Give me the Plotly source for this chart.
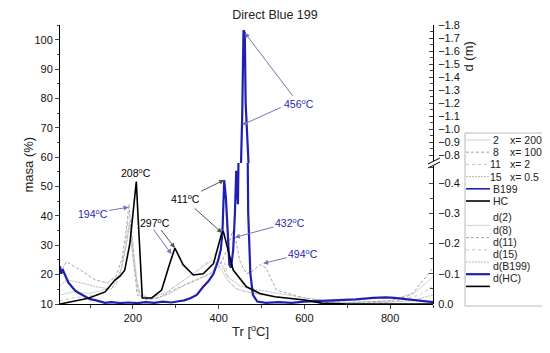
import plotly.graph_objects as go

# ---------------- data ----------------
# TG curves (mass %, left axis)
T_HC = [30, 100, 130, 158, 181, 201, 213, 230, 251, 275, 294, 314, 337, 368, 399, 410, 422, 438, 465, 485, 520, 600, 700, 800, 900]
M_HC = [100, 99.8, 99.3, 97.4, 94, 89.4, 86.6, 86, 85.4, 84.3, 81.4, 78, 75.7, 72.9, 68.5, 66, 63, 60.8, 58.6, 58, 56.9, 55.7, 55.1, 54.8, 54.6]

T_B199 = [30, 49, 80, 112, 174, 290, 329, 368, 399, 415, 430, 438, 446, 454, 461, 467, 473, 496, 558, 700, 776, 850, 900]
M_B199 = [100, 97.4, 96, 95.6, 95.3, 95.1, 94.5, 92.3, 88.9, 85.2, 83, 81.5, 77.4, 71.8, 59, 55, 53.5, 52.4, 51.8, 51.2, 50.7, 49.6, 48.4]

T_2 = [30, 60, 112, 158, 189, 205, 250, 290, 330, 368, 400, 430, 455, 480, 520, 600, 700, 800, 900]
M_2 = [100, 98.5, 96.2, 94, 88.3, 86, 85, 83.5, 80.5, 77, 72, 66, 61, 59, 58.5, 58, 57.5, 57.3, 57]

T_8 = [30, 57, 96, 135, 174, 205, 251, 283, 329, 368, 407, 430, 450, 470, 500, 555, 718, 800, 900]
M_8 = [100, 95.7, 92.8, 90.6, 87.7, 85.1, 83.7, 82.6, 76.9, 73.5, 67.8, 64.3, 61, 57, 54, 53, 51.3, 49.5, 45.6]

T_11 = [30, 80, 135, 174, 205, 251, 290, 329, 368, 407, 438, 460, 485, 600, 750, 900]
M_11 = [100, 98, 94, 90.6, 86, 84.5, 82.6, 80.9, 78.6, 75.2, 70, 64, 61.6, 59, 58, 57]

T_15 = [30, 100, 150, 190, 210, 250, 300, 350, 400, 430, 460, 500, 600, 900]
M_15 = [100, 98.5, 95.5, 89, 85.5, 84.8, 82, 76, 70, 65, 60, 58.5, 58.2, 57.5]

# DTG curves (d, right axis)
TD_HC = [30, 96, 135, 158, 170, 181, 193, 201, 208, 212, 222, 244, 267, 286, 298, 317, 341, 364, 388, 407, 411, 422, 434, 465, 496, 531, 601, 640, 700, 900]
D_HC = [0, -0.019, -0.04, -0.079, -0.092, -0.112, -0.2, -0.31, -0.405, -0.29, -0.02, -0.02, -0.046, -0.134, -0.185, -0.13, -0.096, -0.1, -0.134, -0.233, -0.24, -0.178, -0.112, -0.057, -0.035, -0.024, -0.013, -0.003, 0, 0]

TD_B199 = [30, 33, 36, 40, 45, 50, 57, 65, 72, 81, 90, 100, 112, 125, 135, 150, 170, 190, 210, 230, 250, 270, 290, 310, 320, 335, 349, 364, 376, 388, 399, 405, 409, 413, 417, 420, 425, 429, 434, 438, 441, 445, 450, 455, 458, 461, 463, 466, 469, 474, 480, 490, 510, 540, 570, 600, 640, 680, 720, 760, 790, 810, 840, 870, 900]
D_B199 = [-0.125, -0.10, -0.115, -0.1, -0.085, -0.07, -0.057, -0.045, -0.038, -0.03, -0.022, -0.016, -0.013, -0.008, -0.004, -0.006, -0.003, -0.005, -0.003, -0.006, -0.004, -0.008, -0.005, -0.01, -0.012, -0.02, -0.03, -0.057, -0.075, -0.1, -0.145, -0.18, -0.24, -0.41, -0.35, -0.27, -0.13, -0.12, -0.18, -0.30, -0.44, -0.33, -0.45, -1.1, -1.76, -1.74, -1.2, -0.6, -0.3, -0.1, -0.03, -0.008, -0.004, -0.006, -0.004, -0.008, -0.01, -0.012, -0.015, -0.02, -0.022, -0.02, -0.015, -0.01, -0.006]

TD_2 = [30, 60, 100, 140, 170, 185, 192, 200, 215, 240, 280, 320, 360, 385, 400, 420, 440, 480, 550, 620, 700, 800, 860, 900]
D_2 = [-0.03, -0.04, -0.035, -0.05, -0.1, -0.2, -0.26, -0.15, -0.03, -0.02, -0.04, -0.08, -0.12, -0.145, -0.13, -0.08, -0.05, -0.035, -0.02, -0.01, -0.005, -0.01, -0.04, -0.09]

TD_8 = [30, 45, 80, 112, 140, 160, 175, 185, 191, 198, 210, 230, 260, 300, 350, 380, 400, 410, 420, 432, 440, 450, 465, 480, 496, 510, 535, 560, 600, 650, 700, 800, 850, 900]
D_8 = [-0.1, -0.14, -0.11, -0.08, -0.07, -0.09, -0.15, -0.25, -0.33, -0.2, -0.03, -0.015, -0.02, -0.05, -0.08, -0.1, -0.12, -0.15, -0.18, -0.24, -0.21, -0.14, -0.1, -0.11, -0.13, -0.12, -0.046, -0.036, -0.02, -0.01, -0.005, -0.01, -0.03, -0.12]

TD_11 = [30, 60, 120, 160, 180, 190, 196, 205, 220, 260, 300, 350, 375, 395, 410, 425, 450, 500, 560, 650, 800, 870, 900]
D_11 = [-0.01, -0.02, -0.03, -0.06, -0.15, -0.3, -0.28, -0.1, -0.02, -0.02, -0.06, -0.11, -0.14, -0.17, -0.16, -0.07, -0.045, -0.03, -0.02, -0.005, -0.005, -0.03, -0.06]

TD_15 = [30, 45, 80, 120, 150, 170, 185, 192, 200, 212, 240, 280, 330, 380, 405, 420, 450, 480, 520, 600, 700, 850, 900]
D_15 = [-0.06, -0.08, -0.07, -0.055, -0.05, -0.1, -0.2, -0.27, -0.2, -0.04, -0.015, -0.03, -0.07, -0.1, -0.14, -0.09, -0.06, -0.05, -0.04, -0.02, 0, -0.01, -0.03]

TG_NAMES = ["2", "8", "11", "15", "B199", "HC"]
X_LABELS = ["x= 200", "x= 100", "x= 2", "x= 0.5"]
DTG_NAMES = ["d(2)", "d(8)", "d(11)", "d(15)", "d(B199)", "d(HC)"]

X_TICKS = [200, 400, 600, 800]
Y_TICKS = [10, 20, 30, 40, 50, 60, 70, 80, 90, 100]
D_LOW_TICKS = [0.0, -0.1, -0.2, -0.3, -0.4]
D_HIGH_TICKS = [-0.8, -0.9, -1.0, -1.1, -1.2, -1.3, -1.4, -1.5, -1.6, -1.7, -1.8]

# ---------------- styles ----------------
FONT = "Arial, Liberation Sans, sans-serif"
BLUE = "#1f1fb0"
STY = {
    "2": dict(color="#d2d2da", width=1, dash="solid"),
    "8": dict(color="#a4a4ac", width=1, dash="3px,2px"),
    "11": dict(color="#c4c4cc", width=1, dash="dot"),
    "15": dict(color="#b8b8c0", width=1, dash="2px,1px"),
    "B199": dict(color=BLUE, width=1.6, dash="solid"),
    "HC": dict(color="#000000", width=1.6, dash="solid"),
}
STY_D = {
    "d(2)": STY["2"], "d(8)": STY["8"], "d(11)": STY["11"], "d(15)": STY["15"],
    "d(B199)": dict(color=BLUE, width=2.2, dash="solid"),
    "d(HC)": dict(color="#000000", width=1.6, dash="solid"),
}

# the page body adds an 8 px offset; the figure is sized so that it fills the window exactly
OFF = 8
W, H = 550 - OFF, 353 - OFF
P_L, P_R, P_T, P_B = 60, 433, 25, 304          # plot area in page pixels
ML, MR, MT, MB = P_L - OFF, 550 - P_R, P_T - OFF, 353 - P_B
PW, PH = P_R - P_L, P_B - P_T
BREAK = (P_B - 163) / PH


def pxx(x):
    return (x - P_L) / PW


def pyy(y):
    return (P_B - y) / PH


fig = go.Figure()

tg = {"2": (T_2, M_2), "8": (T_8, M_8), "11": (T_11, M_11), "15": (T_15, M_15),
      "B199": (T_B199, M_B199), "HC": (T_HC, M_HC)}
dtg = {"d(2)": (TD_2, D_2), "d(8)": (TD_8, D_8), "d(11)": (TD_11, D_11), "d(15)": (TD_15, D_15),
       "d(B199)": (TD_B199, D_B199), "d(HC)": (TD_HC, D_HC)}

for n in ["2", "8", "11", "15"]:
    t, m = tg[n]
    fig.add_trace(go.Scatter(x=t, y=m, mode="lines", line=STY[n], showlegend=False, yaxis="y", name=n))
for n in ["d(2)", "d(8)", "d(11)", "d(15)"]:
    t, d = dtg[n]
    for ya in ["y2", "y3"]:
        fig.add_trace(go.Scatter(x=t, y=d, mode="lines", line=STY_D[n], showlegend=False, yaxis=ya, name=n))
for n in ["B199", "HC"]:
    t, m = tg[n]
    fig.add_trace(go.Scatter(x=t, y=m, mode="lines", line=STY[n], showlegend=False, yaxis="y", name=n))
for n in ["d(B199)", "d(HC)"]:
    t, d = dtg[n]
    for ya in ["y2", "y3"]:
        fig.add_trace(go.Scatter(x=t, y=d, mode="lines", line=STY_D[n], showlegend=False, yaxis=ya, name=n))

tickfont = dict(family=FONT, size=11, color="#111")
fig.update_layout(
    width=W, height=H, margin=dict(l=ML, r=MR, t=MT, b=MB, autoexpand=False),
    paper_bgcolor="white", plot_bgcolor="white",
    title=dict(text="Direct Blue 199", x=(275 - OFF) / W, xref="container", y=1 - (15 - OFF) / H,
               yref="container", yanchor="middle", xanchor="center",
               font=dict(family=FONT, size=12.5, color="#222")),
    xaxis=dict(range=[30, 900], tickvals=X_TICKS, ticks="outside", ticklen=4, showline=True,
               linecolor="black", linewidth=1, showgrid=False, zeroline=False, tickfont=tickfont,
               minor=dict(dtick=100, tick0=0, ticks="outside", ticklen=3, showgrid=False), anchor="y"),
    yaxis=dict(range=[10, 105], tickvals=Y_TICKS, ticks="outside", ticklen=4, showline=True,
               linecolor="black", linewidth=1, showgrid=False, zeroline=False, tickfont=tickfont,
               minor=dict(dtick=5, tick0=0, ticks="outside", ticklen=2, showgrid=False), domain=[0, 1]),
    yaxis2=dict(range=[0, -(P_B - 163) / 302.5], tickvals=D_LOW_TICKS, tickformat=".1f", ticks="inside",
                ticklen=4, showline=True, linecolor="black", linewidth=1, showgrid=False, zeroline=False,
                tickfont=tickfont, side="right", anchor="x", domain=[0, BREAK], ticklabelstandoff=2,
                minor=dict(dtick=0.05, tick0=0, ticks="inside", ticklen=3, showgrid=False)),
    yaxis3=dict(range=[-0.8 - (155 - 163) / 130, -1.8], tickvals=D_HIGH_TICKS, tickformat=".1f",
                ticks="inside", ticklen=4, showline=True, linecolor="black", linewidth=1, showgrid=False,
                zeroline=False, tickfont=tickfont, side="right", anchor="x", domain=[BREAK, 1],
                ticklabelstandoff=2,
                minor=dict(dtick=0.05, tick0=0, ticks="inside", ticklen=3, showgrid=False)),
    showlegend=False,
)

ann = []
shapes = []
tf = dict(family=FONT, size=13, color="#222")
ann.append(dict(text="masa (%)", x=pxx(18), y=pyy(165), xref="paper", yref="paper", showarrow=False,
                textangle=-90, font=tf))
ann.append(dict(text="Tr [<sup>o</sup>C]", x=pxx(250), y=pyy(341), xref="paper", yref="paper", showarrow=False,
                font=tf))
ann.append(dict(text="d (m)", x=pxx(478), y=pyy(40), xref="paper", yref="paper", showarrow=False,
                textangle=-90, font=tf))

# peak annotations
af = dict(family=FONT, size=10.5)
blk = "#000000"
arr_b = "#555555"
arr_bl = "#7474b8"
ann += [
    dict(text="208<sup>o</sup>C", x=208, y=-0.405, xref="x", yref="y2", showarrow=False, yanchor="bottom",
         font=dict(af, color=blk)),
    dict(text="194<sup>o</sup>C", x=190, y=-0.32, xref="x", yref="y2", ax=-36, ay=6, showarrow=True,
         arrowhead=2, arrowsize=1, arrowwidth=1, arrowcolor=arr_bl, font=dict(af, color=BLUE)),
    dict(text="297<sup>o</sup>C", x=298, y=-0.185, xref="x", yref="y2", ax=-20, ay=-26, showarrow=True,
         arrowhead=2, arrowsize=1, arrowwidth=1, arrowcolor=arr_b, font=dict(af, color=blk)),
    dict(text="", x=290, y=-0.165, xref="x", yref="y2", ax=-19, ay=-26, showarrow=True,
         arrowhead=2, arrowsize=1, arrowwidth=1, arrowcolor=arr_bl),
    dict(text="411<sup>o</sup>C", x=413, y=-0.41, xref="x", yref="y2", ax=-39, ay=19, showarrow=True,
         arrowhead=2, arrowsize=1, arrowwidth=1, arrowcolor=arr_b, font=dict(af, color=blk)),
    dict(text="", x=408, y=-0.235, xref="x", yref="y2", ax=-29, ay=-26, showarrow=True,
         arrowhead=2, arrowsize=1, arrowwidth=1, arrowcolor=arr_b),
    dict(text="432<sup>o</sup>C", x=438, y=-0.22, xref="x", yref="y2", ax=55, ay=-15, showarrow=True,
         arrowhead=2, arrowsize=1, arrowwidth=1, arrowcolor=arr_bl, font=dict(af, color=BLUE)),
    dict(text="494<sup>o</sup>C", x=504, y=-0.134, xref="x", yref="y2", ax=40, ay=-10, showarrow=True,
         arrowhead=2, arrowsize=1, arrowwidth=1, arrowcolor=arr_bl, font=dict(af, color=BLUE)),
    dict(text="456<sup>o</sup>C", x=461, y=-1.74, xref="x", yref="y3", ax=54, ay=71, showarrow=True,
         arrowhead=2, arrowsize=1, arrowwidth=1, arrowcolor=arr_bl, font=dict(af, color=BLUE)),
    dict(text="", x=455, y=71, xref="x", yref="y", ax=40, ay=-18, showarrow=True,
         arrowhead=2, arrowsize=1, arrowwidth=1, arrowcolor=arr_bl),
]

# axis break marks on the right axis
shapes.append(dict(type="rect", xref="paper", yref="paper", x0=pxx(430), x1=pxx(437), y0=pyy(166), y1=pyy(161),
                   fillcolor="white", line=dict(width=0), layer="above"))
for dy in (-2, 2):
    shapes.append(dict(type="line", xref="paper", yref="paper", x0=pxx(428), y0=pyy(166 + dy), x1=pxx(440),
                       y1=pyy(160 + dy), line=dict(color="black", width=1), layer="above"))

# legend (drawn manually to match the compact row spacing)
shapes.append(dict(type="rect", xref="paper", yref="paper", x0=pxx(465), x1=pxx(546), y0=pyy(306), y1=pyy(133),
                   line=dict(color="#b8b8b8", width=1), fillcolor="rgba(0,0,0,0)"))
rows = [(n, X_LABELS[i] if i < len(X_LABELS) else None, STY[n]) for i, n in enumerate(TG_NAMES)]
rows += [(None, None, None)]
rows += [(n, None, STY_D[n]) for n in DTG_NAMES]
lf = dict(family=FONT, size=10.5, color="#222")
y0 = 140
for i, (name, xl, st) in enumerate(rows):
    yy = y0 + i * 12.2
    if name is None:
        continue
    shapes.append(dict(type="line", xref="paper", yref="paper", x0=pxx(466), x1=pxx(490), y0=pyy(yy), y1=pyy(yy),
                       line=st))
    if xl is not None:
        ann.append(dict(text=name, x=pxx(496), y=pyy(yy), xref="paper", yref="paper", showarrow=False,
                        xanchor="center", font=lf))
        ann.append(dict(text=xl, x=pxx(508), y=pyy(yy), xref="paper", yref="paper", showarrow=False,
                        xanchor="left", font=lf))
    else:
        ann.append(dict(text=name, x=pxx(491), y=pyy(yy), xref="paper", yref="paper", showarrow=False,
                        xanchor="left", font=lf))

fig.update_layout(annotations=ann, shapes=shapes)
fig.write_html("out.html")
